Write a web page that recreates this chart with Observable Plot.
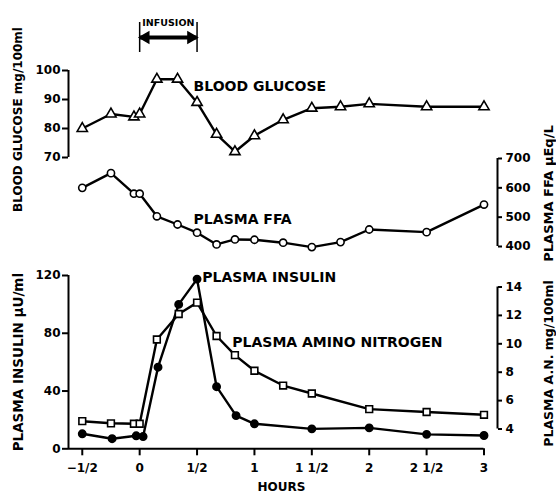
<!DOCTYPE html>
<html><head><meta charset="utf-8">
<script src="https://cdn.jsdelivr.net/npm/d3@7"></script>
<script src="https://cdn.jsdelivr.net/npm/@observablehq/plot@0.6"></script>
<style>
html,body{margin:0;padding:0;background:#fff;}
#chart{position:relative;width:556px;height:497px;overflow:hidden;}
#chart svg{position:absolute;left:0;top:0;}
</style></head><body><div id="chart"></div>
<script>
// ---- data ----
const hours = [-0.5, -0.25, -0.05, 0, 0.15, 0.33, 0.5, 0.67, 0.83, 1, 1.25, 1.5, 1.75, 2, 2.5, 3];
const glucose = [80, 85, 84, 85, 97, 97, 89, 78, 72, 77.5, 83, 87, 87.5, 88.5, 87.5, 87.5];
const ffa = [600, 650, 580, 580, 503, 475, 447, 407, 424, 423, 413, 398, 415, 458, 449, 543];
const insulinHours = [-0.5, -0.24, -0.03, 0.03, 0.16, 0.34, 0.5, 0.67, 0.84, 1, 1.5, 2, 2.5, 3];
const insulin = [10.4, 7, 9, 8.5, 56.5, 100, 117.5, 43, 23, 17.3, 13.8, 14.5, 10, 9.2];
const anHours = [-0.5, -0.25, -0.05, 0, 0.15, 0.34, 0.5, 0.67, 0.83, 1, 1.25, 1.5, 2, 2.5, 3];
const aminoN = [4.55, 4.4, 4.37, 4.37, 10.3, 12.1, 12.9, 10.55, 9.2, 8.1, 7.06, 6.5, 5.4, 5.2, 5.0];

const xTicks = [-0.5, 0, 0.5, 1, 1.5, 2, 2.5, 3];
const xTickLabels = ["\u22121/2", "0", "1/2", "1", "1 1/2", "2", "2 1/2", "3"];
const glucoseTicks = [70, 80, 90, 100];
const ffaTicks = [400, 500, 600, 700];
const insulinTicks = [0, 40, 80, 120];
const anTicks = [4, 6, 8, 10, 12, 14];

const infusion = [{start: 0, end: 0.5, label: "INFUSION"}];
const seriesLabels = {
  glucose: {h: 0.47, v: 94.5, text: "BLOOD GLUCOSE"},
  ffa: {h: 0.47, v: 492, text: "PLASMA FFA"},
  insulin: {h: 0.545, v: 118.4, text: "PLASMA INSULIN"},
  an: {h: 0.807, v: 10.1, text: "PLASMA AMINO NITROGEN"}
};
const titles = {
  glucose: "BLOOD GLUCOSE mg/100ml",
  insulin: "PLASMA INSULIN \u03BCU/ml",
  ffa: "PLASMA FFA \u03BCEq/L",
  an: "PLASMA A.N. mg/100ml",
  x: "HOURS"
};

// ---- layout ----
const W = 556, H = 497;
const xDomain = [-0.62, 3];
const xScale = {domain: xDomain, range: [68, 483.5], axis: null};
const base = {
  width: W, height: H, marginLeft: 68, marginRight: 59,
  style: {background: "transparent", fontFamily: "DejaVu Sans", fontWeight: "bold", fontSize: "12px", color: "black", overflow: "visible"}
};
const LW = 2.4;
const rows = (xs, ys) => xs.map((h, i) => ({h, v: ys[i]}));
const gluData = rows(hours, glucose);
const ffaData = rows(hours, ffa);
const insData = rows(insulinHours, insulin);
const anData = rows(anHours, aminoN);
const lab = (o) => [o];
const chart = document.getElementById("chart");

// infusion annotation
chart.append(Plot.plot({
  ...base, marginTop: 22, marginBottom: H - 52,
  x: xScale, y: {domain: [0, 1], axis: null},
  marks: [
    Plot.ruleX(infusion.flatMap(d => [d.start, d.end]), {y1: 0, y2: 1, strokeWidth: 1.5}),
    Plot.ruleY(infusion, {y: 0.5, x1: "start", x2: "end", strokeWidth: 4}),
    Plot.dot(infusion, {x: "start", y: 0.5, symbol: "triangle", r: 4, rotate: -90, fill: "black", stroke: "black", dx: 6}),
    Plot.dot(infusion, {x: "end", y: 0.5, symbol: "triangle", r: 4, rotate: 90, fill: "black", stroke: "black", dx: -6}),
    Plot.text(infusion, {x: d => (d.start + d.end) / 2, y: 1, text: "label", fontSize: 9.5})
  ]
}));

// glucose
chart.append(Plot.plot({
  ...base, marginTop: 70, marginBottom: H - 157,
  x: xScale, y: {domain: [70, 100], axis: null},
  marks: [
    Plot.ruleX([xDomain[0]], {y1: glucoseTicks[0], y2: glucoseTicks[glucoseTicks.length - 1], strokeWidth: 2}),
    Plot.axisY(glucoseTicks, {anchor: "left", tickSize: 6, tickPadding: 2, strokeWidth: 2, label: null, fontSize: 12}),
    Plot.line(gluData, {x: "h", y: "v", strokeWidth: LW}),
    Plot.dot(gluData, {x: "h", y: "v", symbol: "triangle", r: 3.8, fill: "white", stroke: "black", strokeWidth: 1.6}),
    Plot.text(lab(seriesLabels.glucose), {x: "h", y: "v", text: "text", textAnchor: "start", fontSize: 14}),
    Plot.text([titles.glucose], {frameAnchor: "left", textAnchor: "middle", rotate: -90, dx: -50, dy: 5.5, fontSize: 12})
  ]
}));

// FFA
chart.append(Plot.plot({
  ...base, marginTop: 158, marginBottom: H - 246,
  x: xScale, y: {domain: [400, 700], axis: null},
  marks: [
    Plot.ruleX([xDomain[1]], {y1: ffaTicks[0], y2: ffaTicks[ffaTicks.length - 1], dx: 13.5, strokeWidth: 2}),
    Plot.axisY(ffaTicks, {anchor: "right", tickSize: 4, tickPadding: 4, strokeWidth: 2, label: null, fontSize: 12}),
    Plot.line(ffaData, {x: "h", y: "v", strokeWidth: LW}),
    Plot.dot(ffaData, {x: "h", y: "v", r: 3.6, fill: "white", stroke: "black", strokeWidth: 1.6}),
    Plot.text(lab(seriesLabels.ffa), {x: "h", y: "v", text: "text", textAnchor: "start", fontSize: 14}),
    Plot.text([titles.ffa], {frameAnchor: "right", textAnchor: "middle", rotate: -90, dx: 51, dy: -9, fontSize: 13})
  ]
}));

// insulin + x axis
chart.append(Plot.plot({
  ...base, marginTop: 275, marginBottom: H - 448.3,
  x: xScale, y: {domain: [0, 120], axis: null},
  marks: [
    Plot.ruleX([xDomain[0]], {y1: insulinTicks[0], y2: insulinTicks[insulinTicks.length - 1], strokeWidth: 2}),
    Plot.ruleY([0], {x1: xDomain[0], x2: xDomain[1], strokeWidth: 2}),
    Plot.axisY(insulinTicks, {anchor: "left", tickSize: 6, tickPadding: 2, strokeWidth: 2, label: null, fontSize: 12}),
    Plot.axisX(xTicks, {anchor: "bottom", tickSize: 7, tickPadding: 8, strokeWidth: 2, label: null, fontSize: 12,
      tickFormat: d => xTickLabels[xTicks.indexOf(d)]}),
    Plot.line(insData, {x: "h", y: "v", strokeWidth: LW}),
    Plot.dot(insData, {x: "h", y: "v", r: 3.7, fill: "black", stroke: "black"}),
    Plot.text(lab(seriesLabels.insulin), {x: "h", y: "v", text: "text", textAnchor: "start", fontSize: 14}),
    Plot.text([titles.insulin], {frameAnchor: "left", textAnchor: "middle", rotate: -90, dx: -50, dy: 0, fontSize: 13.5}),
    Plot.text([titles.x], {frameAnchor: "bottom", dx: -1.5, dy: 42, fontSize: 12})
  ]
}));

// amino nitrogen
chart.append(Plot.plot({
  ...base, marginTop: 286.5, marginBottom: H - 428.5,
  x: xScale, y: {domain: [4, 14], axis: null},
  marks: [
    Plot.ruleX([xDomain[1]], {y1: anTicks[0], y2: anTicks[anTicks.length - 1], dx: 13.5, strokeWidth: 2}),
    Plot.axisY(anTicks, {anchor: "right", tickSize: 4, tickPadding: 4, strokeWidth: 2, label: null, fontSize: 12}),
    Plot.line(anData, {x: "h", y: "v", strokeWidth: LW}),
    Plot.dot(anData, {x: "h", y: "v", symbol: "square", r: 3.8, fill: "white", stroke: "black", strokeWidth: 1.6}),
    Plot.text(lab(seriesLabels.an), {x: "h", y: "v", text: "text", textAnchor: "start", fontSize: 14}),
    Plot.text([titles.an], {frameAnchor: "right", textAnchor: "middle", rotate: -90, dx: 51, dy: 5.5, fontSize: 12.5})
  ]
}));
</script></body></html>
